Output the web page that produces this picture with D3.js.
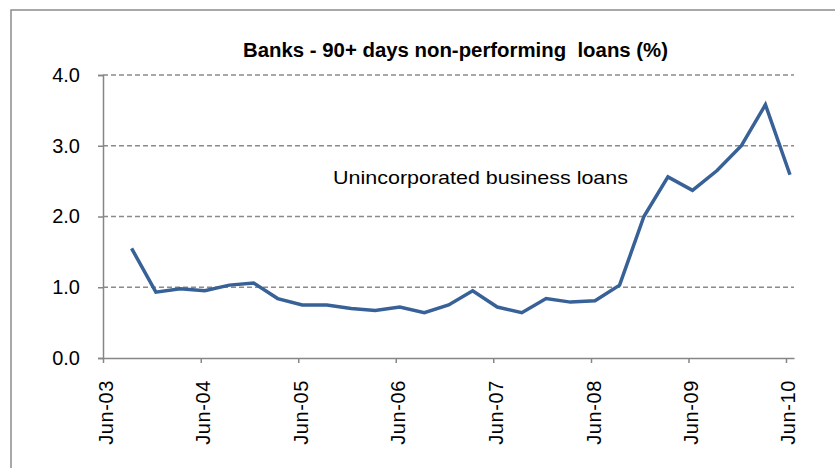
<!DOCTYPE html>
<html>
<head>
<meta charset="utf-8">
<script src="https://cdn.jsdelivr.net/npm/d3@7"></script>
<style>
  html, body { margin: 0; padding: 0; background: #fff; }
  svg { display: block; }
</style>
</head>
<body>
<svg id="chart" width="835" height="468"></svg>
<script>
// Quarter-end observations, Sep-03 to Jun-10
const quarters = [
  "2003-09", "2003-12", "2004-03", "2004-06", "2004-09", "2004-12",
  "2005-03", "2005-06", "2005-09", "2005-12", "2006-03", "2006-06",
  "2006-09", "2006-12", "2007-03", "2007-06", "2007-09", "2007-12",
  "2008-03", "2008-06", "2008-09", "2008-12", "2009-03", "2009-06",
  "2009-09", "2009-12", "2010-03", "2010-06"
];
// 90+ days non-performing unincorporated business loans (%)
const nplValues = [
  1.55, 0.93, 0.98, 0.95, 1.03, 1.06,
  0.84, 0.75, 0.75, 0.70, 0.67, 0.72,
  0.64, 0.75, 0.95, 0.72, 0.64, 0.84,
  0.79, 0.81, 1.03, 2.00, 2.56, 2.37,
  2.65, 3.00, 3.58, 2.59
];
const yTicks = [0, 1, 2, 3, 4];
const xTickLabels = ["Jun-03", "Jun-04", "Jun-05", "Jun-06", "Jun-07", "Jun-08", "Jun-09", "Jun-10"];

const titleText = "Banks - 90+ days non-performing  loans (%)";
const seriesLabel = "Unincorporated business loans";

const svg = d3.select("#chart");
const plot = { left: 103, right: 794, top: 75, bottom: 358 };

const parseMonth = d3.timeParse("%Y-%m");
const parseTick = d3.timeParse("%b-%y");
// each month is a slot; points sit in the middle of their month
const midMonth = s => { const d = parseMonth(s); return new Date(d.getFullYear(), d.getMonth(), 16); };

const x = d3.scaleTime()
  .domain([new Date(2003, 5, 1), new Date(2010, 6, 1)])
  .range([plot.left, plot.right]);
const y = d3.scaleLinear().domain([0, 4]).range([plot.bottom, plot.top]);

// outer frame
svg.append("rect")
  .attr("x", 11).attr("y", 10)
  .attr("width", 840).attr("height", 470)
  .attr("fill", "none").attr("stroke", "#8c8c8c").attr("stroke-width", 1.5);

// title
svg.append("text")
  .attr("x", 243).attr("y", 57)
  .attr("font-family", "Liberation Sans, Arial, sans-serif")
  .attr("font-weight", "bold")
  .attr("font-size", 20)
  .attr("fill", "#000")
  .attr("textLength", 425)
  .attr("lengthAdjust", "spacingAndGlyphs")
  .style("white-space", "pre")
  .text(titleText);

// horizontal dashed gridlines
svg.append("g")
  .selectAll("line")
  .data(yTicks.filter(v => v > 0))
  .join("line")
  .attr("x1", plot.left).attr("x2", plot.right)
  .attr("y1", d => y(d)).attr("y2", d => y(d))
  .attr("stroke", "#8a8a8a")
  .attr("stroke-width", 1.3)
  .attr("stroke-dasharray", "5,3");

// y axis
const yAxis = svg.append("g")
  .attr("transform", `translate(${plot.left},0)`)
  .call(d3.axisLeft(y).tickValues(yTicks).tickFormat(d3.format(".1f")).tickSize(5).tickPadding(18));
yAxis.select(".domain").attr("stroke", "#868686").attr("stroke-width", 1.5);
yAxis.selectAll(".tick line").attr("stroke", "#868686").attr("stroke-width", 1.5);
yAxis.selectAll("text")
  .attr("font-family", "Liberation Sans, Arial, sans-serif")
  .attr("font-size", 20)
  .attr("fill", "#000");

// x axis
const xAxis = svg.append("g")
  .attr("transform", `translate(0,${plot.bottom})`)
  .call(d3.axisBottom(x)
    .tickValues(xTickLabels.map(parseTick))
    .tickFormat(d3.timeFormat("%b-%y"))
    .tickSize(5)
    .tickSizeOuter(0));
xAxis.select(".domain").attr("stroke", "#868686").attr("stroke-width", 1.5);
xAxis.selectAll(".tick line").attr("stroke", "#868686").attr("stroke-width", 1.5);
xAxis.selectAll("text")
  .attr("font-family", "Liberation Sans, Arial, sans-serif")
  .attr("font-size", 20)
  .attr("letter-spacing", 0.6)
  .attr("fill", "#000")
  .attr("text-anchor", "end")
  .attr("dy", "0.35em")
  .attr("transform", "translate(2,22) rotate(-90)")
  .attr("x", 0).attr("y", 0);

// series line
const series = quarters.map((q, i) => ({ date: midMonth(q), value: nplValues[i] }));
svg.append("path")
  .datum(series)
  .attr("fill", "none")
  .attr("stroke", "#376197")
  .attr("stroke-width", 3.5)
  .attr("stroke-linejoin", "miter")
  .attr("d", d3.line().x(d => x(d.date)).y(d => y(d.value)));

// series label
svg.append("text")
  .attr("x", 333).attr("y", 184)
  .attr("font-family", "Liberation Sans, Arial, sans-serif")
  .attr("font-size", 19)
  .attr("fill", "#000")
  .attr("textLength", 295)
  .attr("lengthAdjust", "spacingAndGlyphs")
  .text(seriesLabel);
</script>
</body>
</html>
